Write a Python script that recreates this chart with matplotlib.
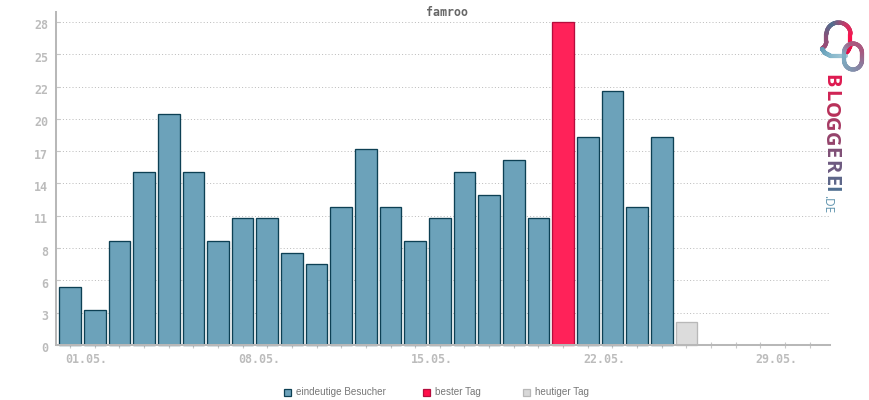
import matplotlib
matplotlib.use("Agg")
import matplotlib.pyplot as plt
from matplotlib.patches import Rectangle
from matplotlib.collections import LineCollection
from matplotlib.colors import LinearSegmentedColormap
from matplotlib.transforms import ScaledTranslation
import numpy as np

title = "famroo"
days = list(range(1, 32))
visitors = [5, 3, 9, 15, 20, 15, 9, 11, 11, 8, 7, 12, 17, 12, 9, 11, 15, 13, 16, 11, 0, 18, 22, 12, 18]
best = {21: 28}
today = {26: 2}
y_ticks = [0, 2.8, 5.6, 8.4, 11.2, 14, 16.8, 19.6, 22.4, 25.2, 28]
y_labels = ["0", "3", "6", "8", "11", "14", "17", "20", "22", "25", "28"]
x_labels = {1: "01.05.", 8: "08.05.", 15: "15.05.", 22: "22.05.", 29: "29.05."}
legend_labels = ["eindeutige Besucher", "bester Tag", "heutiger Tag"]

W, H = 870, 400
GREY = "#b8b8b8"
fig = plt.figure(figsize=(W / 100, H / 100), dpi=100)
ax = fig.add_axes([56 / W, 1 - 345 / H, (830 - 56) / W, (345 - 12) / H])
ax.set_xlim(1 - 14.1 / 24.65, 1 + (830 - 70.1) / 24.65)
ax.set_ylim(0, 333 / 11.54)

bw = 0.88
xs = [d for d, v in zip(days, visitors) if v > 0]
ax.bar(xs, [v for v in visitors if v > 0], width=bw, color="#6ca2ba", edgecolor="#0d4054", linewidth=0.95, zorder=2, clip_on=False)
ax.bar(list(best), list(best.values()), width=bw, color="#ff2259", edgecolor="#b50d3d", linewidth=0.95, zorder=2, clip_on=False)
ax.bar(list(today), list(today.values()), width=bw, color="#dcdcdc", edgecolor=GREY, linewidth=0.95, zorder=2, clip_on=False)

for s in ("top", "right"):
    ax.spines[s].set_visible(False)
for s in ("left", "bottom"):
    ax.spines[s].set_color(GREY)
    ax.spines[s].set_linewidth(1.45)
    ax.spines[s].set_zorder(3)

ax.set_yticks(y_ticks, y_labels)
ax.set_xticks(days, [x_labels.get(d, "") for d in days])
mono = dict(family="DejaVu Sans Mono", fontsize=8.4, fontweight="bold", color="#bcbcbc")
for lab in ax.get_xticklabels() + ax.get_yticklabels():
    lab.set(**mono)
ax.tick_params(axis="y", direction="in", length=3, width=0.8, color="#c8c8c8", pad=5.8)
ax.tick_params(axis="x", direction="inout", length=4.5, width=0.8, color="#c8c8c8", pad=3.5)
for lab in ax.get_yticklabels():
    lab.set_transform(lab.get_transform() + ScaledTranslation(0, -2.5 / 100, fig.dpi_scale_trans))
for lab in ax.get_xticklabels():
    lab.set_ha("left")
    lab.set_transform(lab.get_transform() + ScaledTranslation(-4.5 / 100, 0, fig.dpi_scale_trans))
ax.grid(axis="y", color="#bdbdbd", linestyle=(0, (1, 2.2)), linewidth=0.72, zorder=0)
ax.set_axisbelow(True)

fig.text(447 / W, 1 - 12 / H, title, ha="center", va="center", family="DejaVu Sans Mono",
         fontsize=8.4, fontweight="bold", color="#666666")

# legend
legend_x = [284, 423, 523]
legend_fc = ["#6ca2ba", "#ff0f4a", "#d8d8d8"]
legend_ec = ["#0d4054", "#b50d3d", GREY]
for x, lab, fc, ec in zip(legend_x, legend_labels, legend_fc, legend_ec):
    fig.add_artist(Rectangle((x / W, 1 - 395.5 / H), 7 / W, 7 / H, transform=fig.transFigure,
                             facecolor=fc, edgecolor=ec, linewidth=0.9))
    fig.text((x + 12) / W, 1 - 392 / H, lab, ha="left", va="center", family="Liberation Sans",
             fontsize=7.1, color="#777777")

# logo
def gradient_path(px, py, colors, lw=3.0):
    px, py = np.asarray(px, float), np.asarray(py, float)
    s = np.r_[0, np.cumsum(np.hypot(np.diff(px), np.diff(py)))]
    u = np.linspace(0, s[-1], 120)
    qx, qy = np.interp(u, s, px), np.interp(u, s, py)
    pts = np.column_stack([qx / W, 1 - qy / H])
    segs = np.stack([pts[:-1], pts[1:]], axis=1)
    cm = LinearSegmentedColormap.from_list("logo", colors)
    lc = LineCollection(segs, colors=cm(np.linspace(0, 1, len(segs))), linewidths=lw,
                        transform=fig.transFigure, capstyle="round")
    fig.add_artist(lc)

a = np.linspace(np.pi, 0, 30)
lx = np.r_[822, 825, 826.5, 826.5, 838.5 + 12 * np.cos(a), 850.5, 848, 846]
ly = np.r_[48.5, 46, 42, 34, 34 - 11.5 * np.sin(a), 46, 51, 53]
gradient_path(lx, ly, ["#a04a73", "#8a5079", "#4f7090", "#c93a68", "#ff0f4a", "#e01048"])
gradient_path([822, 825, 830, 838, 846], [49, 53, 55.5, 55.5, 55.5], ["#5f9ab5", "#86b8cc", "#a4c8d6"], lw=3.0)
b = np.linspace(-np.pi / 2, 1.5 * np.pi, 70)
rx = 853 + 9 * np.cos(b)
ry = np.where(np.sin(b) > 0, 60 + 9.5 * np.sin(b), 53 + 9.5 * np.sin(b))
gradient_path(rx, ry, ["#a9587f", "#a9587f", "#8a7fa0", "#7f9db5", "#7db2c8", "#a9587f"], lw=3.0)

letters = "BLOGGEREI"
cols = ["#de1a50", "#cf2354", "#b83059", "#a63a63", "#94436b", "#7f4f76", "#6d5a80", "#5d6689", "#4f6e90"]
ypos = [81, 96, 109.5, 124, 139, 153, 167, 181, 189.5]
for ch, c, yy in zip(letters, cols, ypos):
    fig.text(830 / W, 1 - yy / H, ch, rotation=-90, ha="center", va="center", family="Open Sans",
             fontsize=14.5, fontweight="bold", color=c)
fig.text(828 / W, 1 - 204 / H, ".DE", rotation=-90, ha="center", va="center", family="Open Sans",
         fontsize=8.5, color="#5f93ad")

fig.savefig("out.png", dpi=100)
